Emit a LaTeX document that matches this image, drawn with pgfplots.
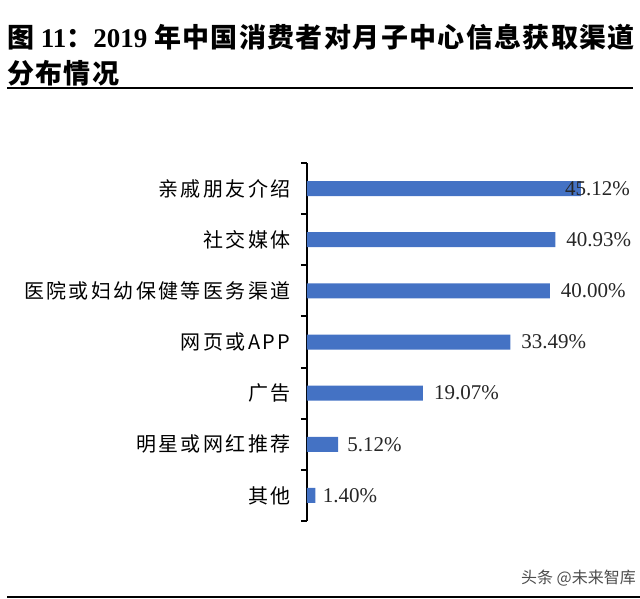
\documentclass[border=0pt]{standalone}
\usepackage{fontspec}
\usepackage{pgfplots}
\pgfplotsset{compat=1.18}
\setmainfont{Liberation Serif}
\newfontfamily\cjklab[LetterSpace=12]{Noto Sans CJK SC}
\newfontfamily\cjktitle[LetterSpace=5]{Noto Sans CJK SC}
\newfontfamily\cjkwm{Noto Sans CJK SC}
\definecolor{barblue}{RGB}{68,114,196}
\begin{document}
\begin{tikzpicture}
\path[use as bounding box] (0,0) rectangle (640pt,598pt);
% title
\node[anchor=west,inner sep=0pt] at (7pt,561pt) {\fontsize{27}{29}\selectfont\bfseries{\cjktitle 图} 11{\cjktitle ：}2019 {\cjktitle 年中国消费者对月子中心信息获取渠道}};
\node[anchor=west,inner sep=0pt] at (7pt,525pt) {\fontsize{27}{29}\selectfont\bfseries\cjktitle 分布情况};
\draw[line width=2pt] (7pt,510pt) -- (633pt,510pt);
\draw[line width=2pt] (7pt,1pt) -- (640pt,1pt);
\node[anchor=east,inner sep=0pt,text=black!70] at (636pt,20pt) {\fontsize{16}{18}\selectfont\cjkwm 头条 @未来智库};
\begin{axis}[
  at={(307pt,77pt)}, anchor=south west,
  scale only axis, width=303.5pt, height=358pt,
  xmin=0, xmax=50, ymin=-0.5, ymax=6.5,
  axis x line=none, axis y line=left,
  y axis line style={-, line width=2pt},
  ytick={0,...,6},
  yticklabels={其他,明星或网红推荐,广告,网页或APP,医院或妇幼保健等医务渠道,社交媒体,亲戚朋友介绍},
  major tick length=0pt,
  minor ytick={-0.5,0.5,...,6.5},
  minor tick length=6pt,
  tick align=outside,
  minor tick style={line width=2pt, black},
  yticklabel style={font=\fontsize{20}{22}\selectfont\cjklab, anchor=east, xshift=-13pt},
  clip=false,
]
\addplot[xbar, bar width=15pt, fill=barblue, draw=none] coordinates {
  (1.40,0) (5.12,1) (19.07,2) (33.49,3) (40.00,4) (40.93,5) (45.12,6)
};
\addplot[draw=none, mark=none, nodes near coords={\pgfplotspointmeta\%},
  point meta=explicit symbolic,
  every node near coord/.append style={anchor=west, inner sep=0pt, font=\fontsize{21}{23}\selectfont, text=black!85}]
  coordinates {
  (2.6,0) [1.40] (6.6,1) [5.12] (20.9,2) [19.07] (35.3,3) [33.49] (41.8,4) [40.00] (42.7,5) [40.93] (42.5,6) [45.12]
};
\end{axis}
\end{tikzpicture}
\end{document}
